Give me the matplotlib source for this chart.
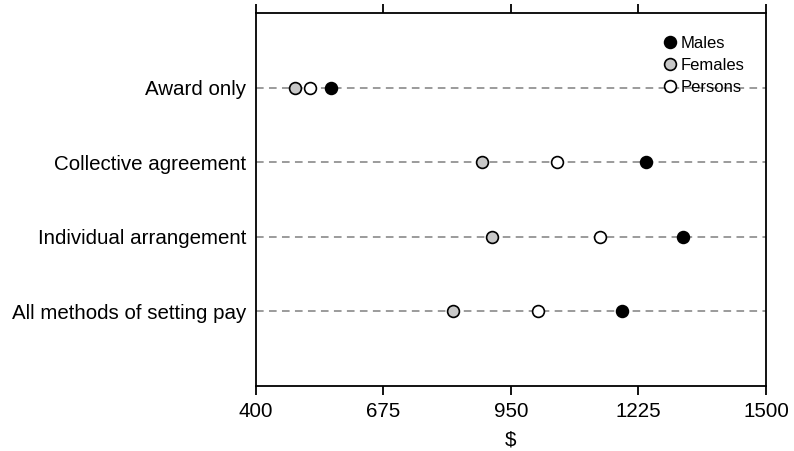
import matplotlib.pyplot as plt

plt.rcParams['font.family'] = ['Liberation Sans', 'DejaVu Sans']

# categories, top to bottom
categories = ['Award only', 'Collective agreement', 'Individual arrangement', 'All methods of setting pay']

# average weekly earnings ($)
males = [562, 1241, 1321, 1190]
females = [484, 887, 909, 825]
persons = [516, 1049, 1142, 1008]

ticks = [400, 675, 950, 1225, 1500]

fig = plt.figure(figsize=(7.94, 4.51), dpi=100)
ax = fig.add_axes([0.3224, 0.1441, 0.6423, 0.8271])

ypos = list(range(len(categories)))

# dashed guide lines for each row
for y in ypos:
    ax.axhline(y, color='#808080', linestyle=(0, (5, 3.5)), linewidth=1.1, zorder=1)

ax.plot(males, ypos, 'o', markersize=8.5, markerfacecolor='black', markeredgecolor='black',
        markeredgewidth=1.2, linestyle='none', label='Males', zorder=3)
ax.plot(females, ypos, 'o', markersize=8.5, markerfacecolor='#c8c8c8', markeredgecolor='black',
        markeredgewidth=1.2, linestyle='none', label='Females', zorder=3)
ax.plot(persons, ypos, 'o', markersize=8.5, markerfacecolor='white', markeredgecolor='black',
        markeredgewidth=1.2, linestyle='none', label='Persons', zorder=3)

ax.set_xlim(400, 1500)
ax.set_ylim(len(categories), -1)
ax.set_xticks(ticks)
ax.set_xticklabels([str(t) for t in ticks], fontsize=14.8)
ax.set_yticks(ypos)
ax.set_yticklabels(categories, fontsize=14.8)
ax.set_xlabel('$', fontsize=14.8, labelpad=7)

ax.tick_params(axis='x', which='both', top=True, direction='out', length=6.5, width=1.3, pad=5)
ax.tick_params(axis='y', length=0, pad=7)

for side in ['top', 'bottom', 'left', 'right']:
    ax.spines[side].set_linewidth(1.3)

leg = ax.legend(loc='upper right', bbox_to_anchor=(0.981, 0.969), frameon=False, fontsize=12,
                handletextpad=0.15, labelspacing=0.42, borderpad=0.2, handlelength=1.0)

fig.savefig('out.png', dpi=100)
